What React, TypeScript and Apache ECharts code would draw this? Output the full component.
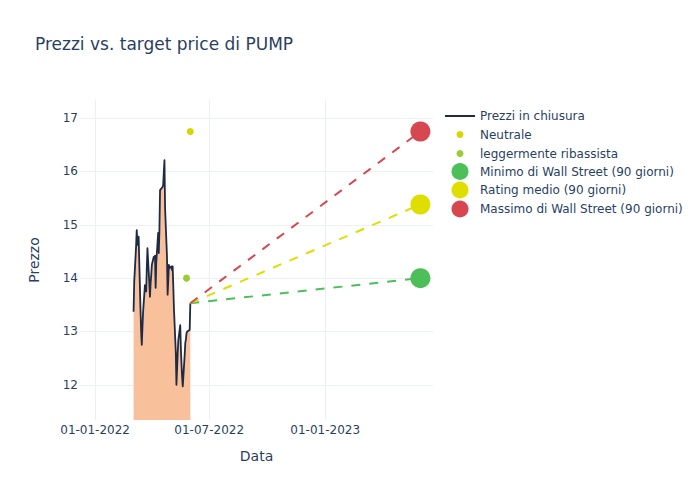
import React, { useEffect, useRef } from "react";
import * as echarts from "echarts";

const priceDates = [
  "2022-03-03", "2022-03-04", "2022-03-07", "2022-03-08", "2022-03-09", "2022-03-10", "2022-03-11",
  "2022-03-14", "2022-03-15", "2022-03-16", "2022-03-17", "2022-03-18", "2022-03-21", "2022-03-22",
  "2022-03-23", "2022-03-24", "2022-03-25", "2022-03-28", "2022-03-29", "2022-03-30", "2022-03-31",
  "2022-04-01", "2022-04-04", "2022-04-05", "2022-04-06", "2022-04-07", "2022-04-08", "2022-04-11",
  "2022-04-12", "2022-04-13", "2022-04-14", "2022-04-18", "2022-04-19", "2022-04-20", "2022-04-21",
  "2022-04-22", "2022-04-25", "2022-04-26", "2022-04-27", "2022-04-28", "2022-04-29", "2022-05-02",
  "2022-05-03", "2022-05-04", "2022-05-05", "2022-05-06", "2022-05-09", "2022-05-10", "2022-05-11",
  "2022-05-12", "2022-05-13", "2022-05-16", "2022-05-17", "2022-05-18", "2022-05-19", "2022-05-20",
  "2022-05-23", "2022-05-24", "2022-05-25", "2022-05-26", "2022-05-27", "2022-05-31", "2022-06-01",
];
const priceValues = [
  13.37, 13.93, 14.6, 14.9, 14.7, 14.62, 14.78,
  13.4, 13.0, 12.75, 13.05, 13.35, 13.87, 13.8,
  13.75, 14.2, 14.56, 13.9, 13.65, 13.9, 14.06,
  14.25, 14.4, 14.38, 14.42, 13.82, 14.3, 14.85,
  14.47, 14.9, 15.65, 15.71, 15.75, 16.0, 16.21,
  15.3, 14.4, 13.69, 13.95, 14.25, 14.19, 14.22,
  14.15, 14.22, 13.85, 13.44, 12.6, 12.0, 12.3,
  12.6, 12.84, 13.12, 12.7, 12.4, 12.15, 11.97,
  12.55, 12.78, 12.85, 12.97, 13.0, 13.03, 13.53,
];

const neutralPoint = { date: "2022-06-01", value: 16.75 };
const slightlyBearishPoint = { date: "2022-05-26", value: 14.0 };

const targetStartDate = "2022-06-01";
const targetEndDate = "2023-06-01";
const targetStartValue = 13.53;
const targetMin = 14.0;
const targetAvg = 15.38;
const targetMax = 16.75;

const yTicks = [12, 13, 14, 15, 16, 17];
const xTickDates = ["2022-01-01", "2022-07-01", "2023-01-01"];

const xMinDate = "2021-12-08";
const xMaxDate = "2023-06-21";
const yMin = 11.34;
const yMax = 17.34;

const toTs = (s: string) => {
  const [y, m, d] = s.split("-").map(Number);
  return Date.UTC(y, m - 1, d);
};
const pad = (n: number) => (n < 10 ? "0" + n : "" + n);
const fmtDate = (ts: number) => {
  const d = new Date(ts);
  return pad(d.getUTCDate()) + "-" + pad(d.getUTCMonth() + 1) + "-" + d.getUTCFullYear();
};

const FONT = "DejaVu Sans";
const TEXT = "#2a3f5f";
const GRID = "#ebf0f8";

const COL_LINE = "#1f2a44";
const COL_FILL = "#f9c09c";
const COL_NEUTRAL = "#d6d600";
const COL_BEAR = "#9acd32";
const COL_MIN = "#4cbf59";
const COL_AVG = "#dede00";
const COL_MAX = "#d6474f";

export default function App() {
  const ref = useRef<HTMLDivElement>(null);
  useEffect(() => {
    if (!ref.current) return;
    const chart = echarts.init(ref.current, null, { renderer: "svg" });

    const priceData = priceDates.map((d, i) => [toTs(d), priceValues[i]]);
    const targetSeries = (name: string, end: number, color: string) => ({
      name,
      type: "line",
      z: 3,
      data: [
        { value: [toTs(targetStartDate), targetStartValue], symbol: "none" },
        { value: [toTs(targetEndDate), end], symbol: "circle", symbolSize: 20 },
      ],
      lineStyle: { color, width: 2, type: [9, 9] },
      itemStyle: { color, opacity: 1 },
      showSymbol: true,
      silent: true,
    });

    const legendItem = (name: string, cy: number, h: number, color: string, icon: string) => ({
      left: icon === "circle" ? 460 - h / 2 : 445,
      top: cy - Math.max(h, 10) / 2,
      padding: 0,
      orient: "vertical",
      selectedMode: false,
      itemWidth: 30,
      itemHeight: h,
      textStyle: { fontFamily: FONT, fontSize: 12, color: TEXT },
      data: [{ name, icon, itemStyle: { color } }],
    });

    chart.setOption({
      animation: false,
      backgroundColor: "#ffffff",
      textStyle: { fontFamily: FONT },
      title: {
        text: "Prezzi vs. target price di PUMP",
        left: 30,
        top: 30,
        textStyle: { fontFamily: FONT, fontSize: 17, fontWeight: "normal", color: TEXT },
      },
      grid: { left: 80, right: 267, top: 100, bottom: 80 },
      legend: [
        legendItem("Prezzi in chiusura", 115, 2, COL_LINE, "rect"),
        legendItem("Neutrale", 133.5, 7, COL_NEUTRAL, "circle"),
        legendItem("leggermente ribassista", 152.5, 7, COL_BEAR, "circle"),
        legendItem("Minimo di Wall Street (90 giorni)", 171.5, 17, COL_MIN, "circle"),
        legendItem("Rating medio (90 giorni)", 190, 17, COL_AVG, "circle"),
        legendItem("Massimo di Wall Street (90 giorni)", 209, 17, COL_MAX, "circle"),
      ],
      xAxis: {
        type: "value",
        min: toTs(xMinDate),
        max: toTs(xMaxDate),
        name: "Data",
        nameLocation: "middle",
        nameGap: 29,
        nameTextStyle: { fontFamily: FONT, fontSize: 14, color: TEXT },
        axisLine: { show: false },
        axisTick: { show: false },
        splitLine: { show: false },
        axisLabel: {
          customValues: xTickDates.map(toTs),
          formatter: (v: number) => fmtDate(v),
          fontFamily: FONT,
          fontSize: 12,
          color: TEXT,
          margin: 4,
          hideOverlap: false,
        },
      },
      yAxis: {
        type: "value",
        min: yMin,
        max: yMax,
        name: "Prezzo",
        nameLocation: "middle",
        nameGap: 39,
        nameTextStyle: { fontFamily: FONT, fontSize: 14, color: TEXT },
        axisLine: { show: false },
        axisTick: { show: false },
        splitLine: { show: false },
        axisLabel: {
          customValues: yTicks,
          formatter: (v: number) => String(v),
          fontFamily: FONT,
          fontSize: 12,
          color: TEXT,
          margin: 2,
        },
      },
      series: [
        {
          name: "Prezzi in chiusura",
          type: "custom",
          z: 2,
          silent: true,
          clip: true,
          data: [priceData[0]],
          encode: { x: 0, y: 1 },
          renderItem: (params: any, api: any) => {
            if (params.dataIndex !== 0) return null;
            const pts = priceData.map((p) => api.coord(p));
            const baseY = api.coord([priceData[0][0], yMin])[1];
            const first = pts[0];
            const last = pts[pts.length - 1];
            const poly = [...pts, [last[0], baseY], [first[0], baseY]];
            return {
              type: "group",
              children: [
                {
                  type: "polygon",
                  shape: { points: poly },
                  style: { fill: COL_FILL, stroke: null },
                },
                {
                  type: "polyline",
                  shape: { points: pts },
                  style: { fill: null, stroke: COL_LINE, lineWidth: 1.8, lineJoin: "round" },
                },
              ],
            };
          },
        },
        {
          name: "Neutrale",
          type: "scatter",
          z: 3,
          symbolSize: 7,
          data: [[toTs(neutralPoint.date), neutralPoint.value]],
          itemStyle: { color: COL_NEUTRAL, opacity: 1 },
          silent: true,
          markLine: {
            silent: true,
            symbol: "none",
            z: 0,
            label: { show: false },
            lineStyle: { color: GRID, width: 1, type: "solid" },
            emphasis: { disabled: true },
            data: [
              ...yTicks.map((v) => ({ yAxis: v })),
              ...xTickDates.map((d) => ({ xAxis: toTs(d) })),
            ],
          },
        },
        {
          name: "leggermente ribassista",
          type: "scatter",
          z: 3,
          symbolSize: 7,
          data: [[toTs(slightlyBearishPoint.date), slightlyBearishPoint.value]],
          itemStyle: { color: COL_BEAR, opacity: 1 },
          silent: true,
        },
        targetSeries("Minimo di Wall Street (90 giorni)", targetMin, COL_MIN),
        targetSeries("Rating medio (90 giorni)", targetAvg, COL_AVG),
        targetSeries("Massimo di Wall Street (90 giorni)", targetMax, COL_MAX),
      ],
    });
    return () => chart.dispose();
  }, []);
  return (
    <div
      ref={ref}
      style={{ position: "absolute", left: 0, top: 0, width: 700, height: 500 }}
    />
  );
}
